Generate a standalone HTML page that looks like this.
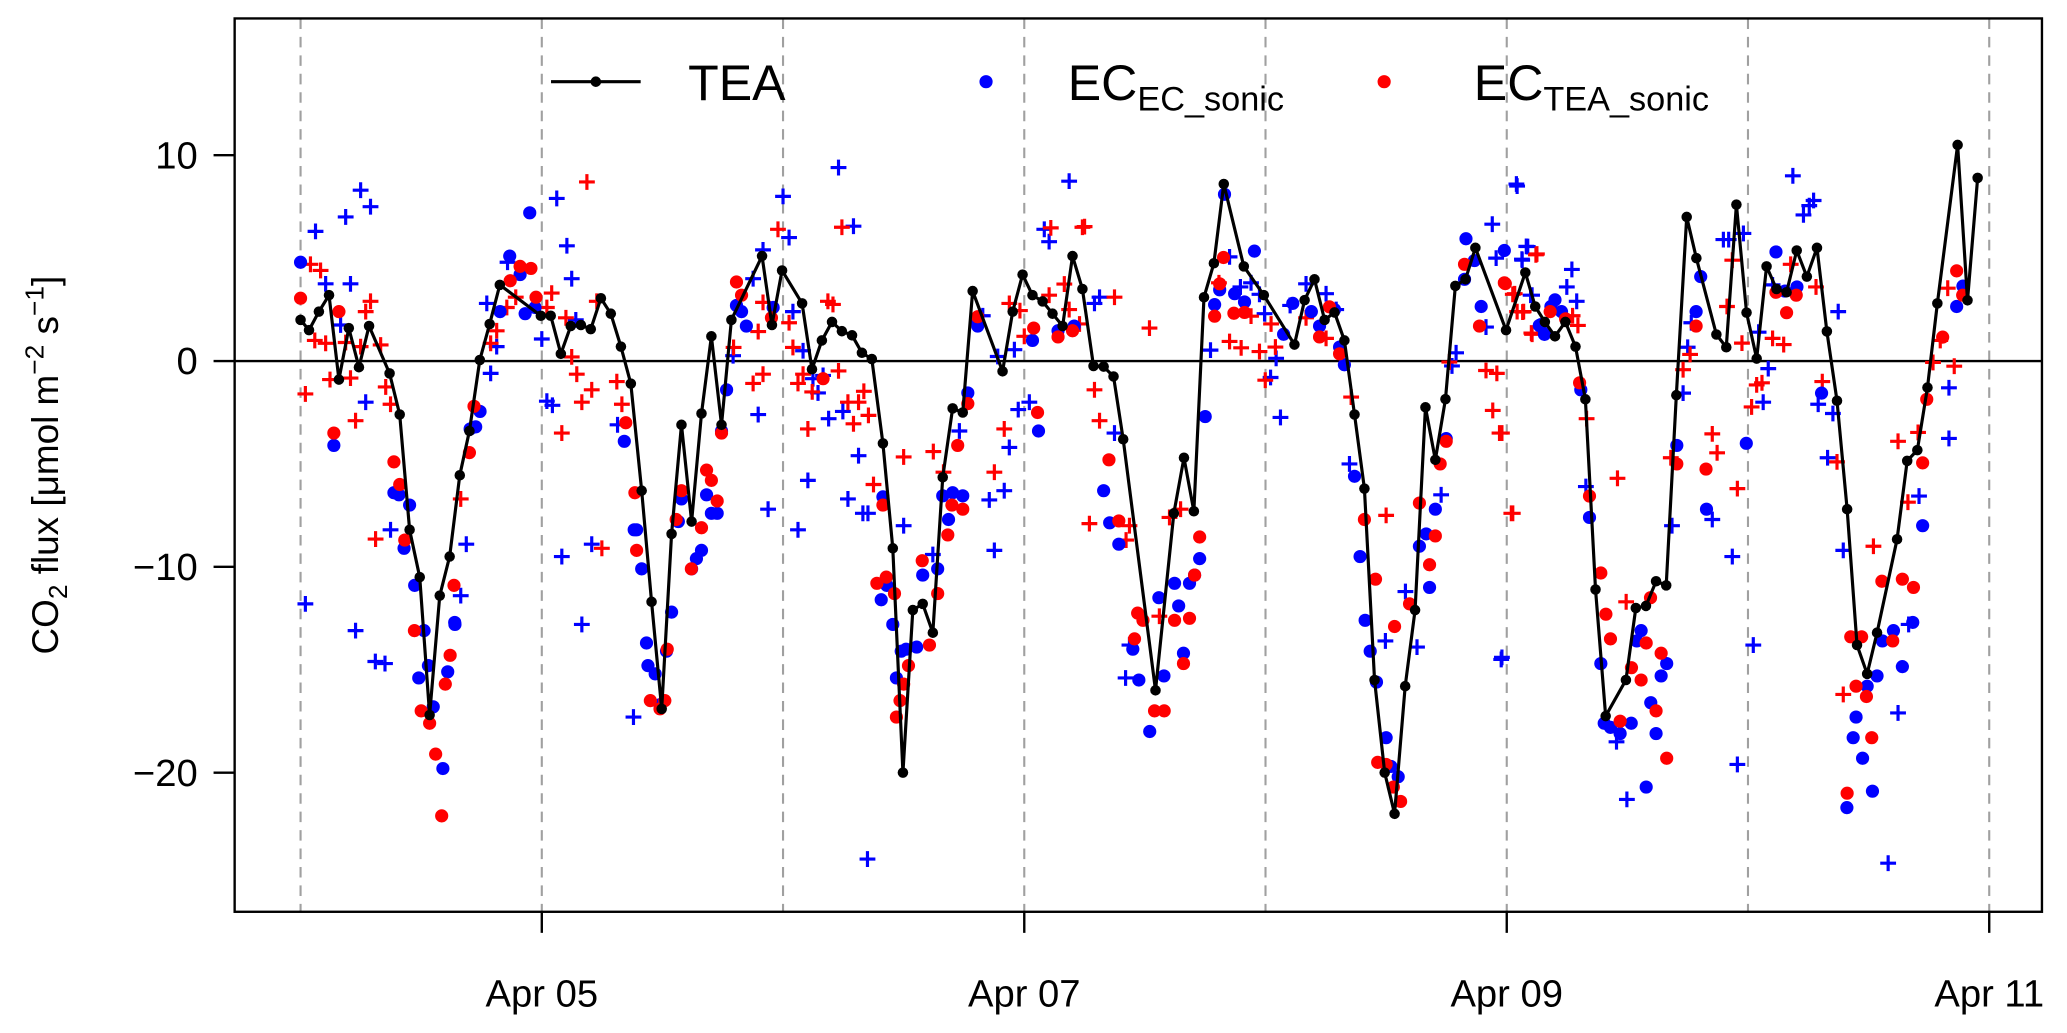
<!DOCTYPE html>
<html><head><meta charset="utf-8"><style>
html,body{margin:0;padding:0;background:#fff;}
svg{display:block;}
text{font-family:"Liberation Sans",Arial,sans-serif;}
</style></head><body>
<svg id="chart" width="2067" height="1033" viewBox="0 0 1568 784" preserveAspectRatio="none" xmlns="http://www.w3.org/2000/svg">
<g id="grid"></g>
<line x1="178" y1="274" x2="1549" y2="274" stroke="#000" stroke-width="1.8"/>
<g id="marks"></g>
<rect x="178" y="14" width="1371" height="678" fill="none" stroke="#000" stroke-width="1.8"/>
<g id="axes"></g>
<text transform="translate(44,353) rotate(-90)" text-anchor="middle" font-size="28">CO<tspan font-size="20" dy="7">2</tspan><tspan dy="-7"> flux [μmol m</tspan><tspan font-size="20" dy="-11">−2</tspan><tspan dy="11"> s</tspan><tspan font-size="20" dy="-11">−1</tspan><tspan dy="11">]</tspan></text>
<g>
  <line x1="418" y1="62" x2="486" y2="62" stroke="#000" stroke-width="2.4"/>
  <circle cx="452" cy="62" r="4" fill="#000"/>
  <text x="522" y="76" font-size="38">TEA</text>
  <circle cx="748" cy="62" r="5" fill="#0000ff"/>
  <text x="810" y="76" font-size="38">EC<tspan font-size="26" dy="8">EC_sonic</tspan></text>
  <circle cx="1050" cy="62" r="5" fill="#ff0000"/>
  <text x="1118" y="76" font-size="38">EC<tspan font-size="26" dy="8">TEA_sonic</tspan></text>
</g>
</svg>
<script>
const teaDays=[4.000,4.035,4.076,4.118,4.159,4.200,4.242,4.284,4.369,4.411,4.452,4.494,4.535,4.577,4.618,4.660,4.700,4.743,4.784,4.826,4.996,5.037,5.079,5.120,5.162,5.203,5.245,5.286,5.328,5.369,5.414,5.455,5.497,5.538,5.579,5.621,5.662,5.703,5.745,5.786,5.913,5.954,5.996,6.079,6.120,6.161,6.203,6.244,6.286,6.327,6.368,6.414,6.455,6.497,6.538,6.579,6.621,6.662,6.703,6.745,6.786,6.910,6.952,6.993,7.034,7.076,7.117,7.159,7.200,7.241,7.287,7.329,7.370,7.410,7.544,7.620,7.662,7.703,7.745,7.786,7.827,7.910,7.993,8.120,8.162,8.203,8.245,8.286,8.327,8.369,8.410,8.452,8.494,8.535,8.579,8.620,8.663,8.704,8.746,8.787,8.829,8.870,8.997,9.077,9.118,9.158,9.200,9.243,9.285,9.326,9.368,9.410,9.494,9.535,9.577,9.619,9.661,9.703,9.746,9.786,9.869,9.910,9.952,9.994,10.036,10.077,10.118,10.160,10.202,10.244,10.286,10.327,10.369,10.411,10.452,10.494,10.535,10.618,10.660,10.702,10.744,10.785,10.869,10.910,10.952];
const teaVals=[2.0,1.5,2.4,3.2,-0.9,1.6,-0.3,1.7,-0.6,-2.6,-8.2,-10.5,-17.2,-11.4,-9.5,-5.55,-3.4,0.05,1.8,3.7,2.2,2.2,0.35,1.7,1.75,1.55,3.05,2.3,0.7,-1.1,-6.3,-11.7,-16.9,-8.4,-3.1,-7.8,-2.55,1.2,-3.1,2.0,5.1,1.75,4.4,2.8,-0.4,1.0,1.9,1.45,1.25,0.4,0.1,-4.0,-9.1,-20.0,-12.1,-11.8,-13.2,-5.65,-2.3,-2.5,3.4,-0.5,2.4,4.2,3.2,2.9,2.3,1.7,5.1,3.5,-0.24,-0.27,-0.75,-3.8,-16.0,-7.4,-4.7,-7.3,3.1,4.75,8.6,4.6,3.2,0.8,2.96,3.97,2.0,2.36,1.0,-2.6,-6.2,-15.5,-20.0,-22.0,-15.8,-12.1,-2.25,-4.8,-1.85,3.65,3.97,5.5,1.5,4.3,2.65,1.9,1.2,1.9,0.7,-1.86,-11.1,-17.25,-15.5,-12.0,-11.9,-10.7,-10.9,-1.66,7.0,5.0,1.29,0.67,7.6,2.35,0.12,4.6,3.5,3.34,5.37,4.1,5.5,1.44,-1.93,-7.2,-13.8,-15.2,-13.2,-8.66,-4.85,-4.33,-1.29,2.8,10.5,2.95,8.9];

const blueDotDays=[4.0,4.138,4.387,4.408,4.452,4.429,4.473,4.512,4.49,4.53,4.55,4.59,4.61,4.64,4.639,4.744,4.703,4.726,4.827,4.91,4.867,4.95,4.931,4.972,5.342,5.383,5.393,5.414,5.434,5.44,5.47,5.49,5.517,5.538,5.566,5.579,5.621,5.641,5.662,5.683,5.703,5.727,5.745,5.766,5.807,5.828,5.848,5.959,6.414,6.43,6.407,6.455,6.47,6.49,6.51,6.554,6.579,6.641,6.686,6.662,6.703,6.745,6.766,6.8,6.807,7.034,7.059,7.14,7.207,7.329,7.354,7.392,7.45,7.475,7.52,7.558,7.579,7.623,7.64,7.66,7.685,7.706,7.727,7.75,7.789,7.81,7.872,7.913,7.954,7.83,8.075,8.113,8.19,8.224,8.286,8.307,8.327,8.369,8.392,8.413,8.434,8.46,8.5,8.52,8.55,8.638,8.666,8.68,8.704,8.749,8.825,8.866,8.831,8.894,8.99,9.142,9.156,9.135,9.157,9.183,9.2,9.227,9.307,9.343,9.39,9.404,9.43,9.47,9.516,9.539,9.557,9.578,9.597,9.619,9.64,9.663,9.705,9.804,9.785,9.828,9.993,10.116,10.153,10.203,10.305,10.41,10.448,10.436,10.475,10.516,10.494,10.535,10.557,10.603,10.64,10.683,10.724,10.865,10.891];
const blueDotVals=[4.8,-4.1,-6.4,-6.5,-7.0,-9.1,-10.9,-13.1,-15.4,-14.8,-16.8,-19.8,-15.1,-12.8,-12.7,-2.45,-3.3,-3.2,2.4,4.2,5.1,7.2,2.3,2.6,-3.9,-8.2,-8.2,-10.1,-13.7,-14.8,-15.2,-16.7,-14.1,-12.2,-7.8,-6.7,-10.1,-9.6,-9.2,-6.5,-7.4,-7.4,-3.4,-1.4,2.7,2.4,1.7,2.6,-6.6,-10.9,-11.6,-12.8,-15.4,-14.1,-14.0,-13.9,-10.4,-10.1,-7.7,-6.55,-6.4,-6.55,-1.55,2.0,1.7,1.0,-3.4,1.47,1.7,-6.3,-7.86,-8.9,-14.0,-15.5,-18.0,-11.5,-15.3,-10.8,-11.9,-14.2,-10.8,-10.4,-9.6,-2.7,2.74,3.46,3.27,2.87,5.34,8.1,1.3,2.8,2.4,1.7,2.5,0.68,-0.18,-5.6,-9.5,-12.6,-14.1,-15.6,-18.3,-19.7,-20.2,-9.0,-8.4,-11.0,-7.2,-3.77,3.97,4.88,5.94,2.65,5.37,1.77,1.3,1.73,1.3,2.65,2.97,2.4,-1.4,-7.6,-14.7,-17.6,-17.8,-18.1,-17.6,-13.6,-13.1,-20.7,-16.6,-18.1,-15.3,-14.7,-4.1,4.1,2.4,-7.2,-4.0,5.3,3.4,3.6,-1.56,-21.7,-17.3,-18.3,-19.3,-20.9,-15.8,-15.3,-13.6,-13.1,-14.85,-12.7,-8.0,2.65,3.64];

const redDotDays=[4.0,4.159,4.138,4.387,4.411,4.432,4.472,4.50,4.535,4.56,4.585,4.60,4.62,4.636,4.719,4.7,4.869,4.91,4.955,4.976,5.348,5.386,5.393,5.45,5.49,5.51,5.52,5.579,5.557,5.62,5.662,5.683,5.703,5.727,5.745,5.807,5.828,5.952,6.166,6.389,6.428,6.462,6.414,6.47,6.485,6.50,6.52,6.577,6.607,6.641,6.683,6.7,6.724,6.745,6.766,6.807,7.055,7.039,7.14,7.2,7.351,7.392,7.47,7.492,7.457,7.54,7.58,7.623,7.685,7.727,7.706,7.66,7.789,7.826,7.81,7.869,7.913,8.224,8.265,8.307,8.41,8.456,8.465,8.5,8.53,8.56,8.535,8.597,8.68,8.704,8.638,8.724,8.749,8.825,8.887,8.99,8.994,9.18,9.244,9.302,9.343,9.39,9.411,9.43,9.47,9.517,9.557,9.578,9.596,9.619,9.64,9.663,9.705,9.785,9.826,10.16,10.2,10.116,10.426,10.471,10.448,10.491,10.513,10.411,10.555,10.6,10.64,10.686,10.724,10.741,10.807,10.865,10.89];
const redDotVals=[3.05,2.4,-3.5,-4.9,-6.0,-8.7,-13.1,-17.0,-17.6,-19.1,-22.1,-15.7,-14.3,-10.9,-2.2,-4.45,3.9,4.6,4.5,3.1,-3.0,-6.4,-9.2,-16.5,-16.9,-16.5,-14.0,-6.3,-7.7,-10.1,-8.1,-5.3,-5.8,-6.8,-3.5,3.84,3.2,2.1,-0.86,-10.8,-10.5,-11.3,-7.0,-17.3,-16.5,-15.7,-14.8,-9.7,-13.8,-11.3,-8.45,-7.0,-4.1,-7.2,-2.07,2.15,-2.5,1.6,1.17,1.47,-4.8,-7.77,-12.25,-12.6,-13.5,-17.0,-17.0,-12.6,-12.5,-8.55,-10.4,-14.7,2.18,5.03,3.75,2.32,2.36,1.17,2.63,0.35,-7.7,-10.6,-19.5,-19.6,-20.7,-21.4,-12.9,-11.8,-9.9,-8.5,-6.9,-5.0,-3.9,4.7,1.7,3.8,3.76,2.4,2.05,-1.06,-6.56,-10.3,-12.3,-13.5,-17.5,-14.9,-15.5,-13.7,-11.5,-17.0,-14.2,-19.3,-5.0,1.7,-5.25,2.35,3.2,3.34,-13.4,-13.4,-15.8,-16.3,-18.3,-21.0,-10.7,-13.6,-10.6,-11.0,-4.95,-1.86,1.16,4.38,3.2];

const bluePlusDays=[4.249,4.29,4.187,4.062,4.104,4.207,4.166,4.27,4.373,4.02,4.228,4.31,4.35,4.687,4.664,4.772,4.813,4.788,4.858,5.062,5.104,5.124,5.141,5.0,5.021,5.044,5.083,5.166,5.207,5.314,5.38,6.23,6.292,6.0,6.025,5.917,5.876,6.041,6.083,5.793,5.897,6.124,6.166,6.145,6.189,6.248,6.313,6.103,5.938,6.062,6.269,6.331,6.352,6.5,6.621,6.35,6.731,6.828,6.89,6.959,6.975,7.021,6.938,6.855,6.917,6.876,7.083,7.103,7.186,7.312,7.291,7.374,7.436,7.42,7.851,7.896,7.94,7.975,7.996,8.044,8.021,8.062,7.772,8.168,8.251,8.102,8.293,8.348,8.497,8.58,8.728,8.628,8.773,8.79,8.94,8.914,8.956,9.043,9.064,9.087,9.105,8.977,9.04,9.063,9.081,9.27,9.249,9.29,9.099,8.98,9.328,9.455,9.498,9.685,9.731,9.75,9.765,9.852,9.935,9.956,9.898,9.92,9.981,10.022,10.044,10.063,10.084,10.186,10.23,10.254,10.272,10.102,10.291,10.352,10.33,10.374,10.395,10.581,10.622,10.666,10.709,10.833,10.833];
const bluePlusVals=[8.3,7.5,7.0,6.3,3.75,3.75,1.75,-2.0,-8.2,-11.8,-13.1,-14.6,-14.7,-8.9,-11.4,2.8,0.7,-0.6,4.8,7.9,5.6,4.0,2.0,1.07,-1.95,-2.15,-9.5,-12.8,-8.9,-3.1,-17.3,9.4,6.55,8.0,6.0,5.4,4.0,2.4,0.5,0.26,-2.6,-0.86,-0.7,-1.55,-2.8,-2.45,-4.6,-5.8,-7.2,-8.2,-6.7,-7.4,-7.4,-8.0,-9.4,-24.2,-3.4,2.2,0.22,0.55,-2.36,-2.0,-4.2,-6.75,-6.3,-9.2,6.4,5.8,8.74,3.1,2.8,-3.5,-13.8,-15.4,5.06,3.6,3.8,3.24,2.3,0.13,-0.8,-2.74,0.53,3.75,3.27,2.7,2.5,-5.0,-13.6,-11.2,-6.5,-13.9,-0.24,0.4,6.65,1.65,5.0,8.5,4.9,5.56,3.2,-14.5,8.6,4.95,5.57,4.45,3.6,2.9,3.2,-14.4,-6.1,-18.5,-21.3,-8.0,-1.56,0.67,1.86,-7.7,-9.5,-19.6,5.9,5.9,6.2,-13.8,1.4,-2.0,-0.37,9.0,7.1,7.55,7.8,3.7,-2.1,-2.55,-4.7,2.4,-9.2,-24.4,-17.1,-12.8,-6.56,-1.3,-3.76];

const redPlusDays=[4.041,4.083,4.059,4.104,4.29,4.27,4.332,4.02,4.122,4.207,4.187,4.249,4.228,4.353,4.373,4.311,4.664,4.813,4.788,4.855,4.892,5.041,5.021,5.187,5.1,5.124,5.145,5.207,5.166,5.083,5.228,5.311,5.332,5.249,5.979,6.244,6.186,6.207,5.917,5.897,6.025,6.041,5.795,5.917,5.876,6.062,6.083,6.121,6.23,6.269,6.313,6.335,6.354,6.292,6.103,6.375,6.5,6.623,6.665,6.917,6.876,6.938,6.982,7.0,7.11,7.166,7.186,7.103,7.241,7.25,7.374,7.519,7.229,7.291,7.312,7.27,7.436,7.422,7.56,7.648,7.602,7.807,7.851,7.899,7.94,7.975,7.999,8.023,8.041,8.168,8.251,8.355,8.5,8.97,8.942,8.914,8.959,9.121,9.025,9.066,9.105,9.025,8.762,9.043,9.125,9.033,9.07,9.102,9.273,9.295,8.98,9.019,9.331,9.459,9.495,9.68,9.731,9.76,9.852,9.872,9.913,9.935,9.956,9.975,10.036,10.058,10.015,10.102,10.148,10.177,10.282,10.308,10.369,10.395,10.52,10.622,10.663,10.705,10.767,10.828,10.855,10.797];
const redPlusVals=[4.7,4.4,1.0,0.86,2.9,2.4,0.78,-1.6,-0.9,-0.83,0.9,0.7,-2.9,-1.26,-2.1,-8.65,-6.7,1.47,0.86,2.6,3.1,3.3,2.6,8.7,2.1,0.2,-0.64,-1.4,-2.0,-3.5,2.9,-1.0,-2.1,-9.1,6.4,6.5,2.9,2.75,2.85,1.43,1.86,0.66,0.66,-0.64,-1.09,-1.09,-0.64,-1.5,-0.48,-2.0,-2.0,-1.47,-2.64,-3.05,-3.3,-6.0,-4.66,-4.4,-5.4,-3.3,-5.4,2.8,2.45,1.2,6.47,3.74,2.5,3.2,6.5,6.53,3.1,1.6,1.8,-1.4,-2.9,-7.9,-8.0,-8.7,-12.4,-7.2,-7.6,3.8,0.95,0.64,2.18,0.46,-0.93,1.8,0.68,2.1,1.1,-1.75,-7.5,-3.5,-2.4,-0.46,-0.6,5.16,3.24,2.38,1.3,-7.4,-0.05,2.4,5.2,3.27,2.4,1.36,2.2,1.73,-3.5,-7.4,-2.8,-5.7,-11.7,-4.7,-0.42,0.32,-3.54,-4.46,2.65,4.9,-6.2,0.87,-1.16,-1.06,-2.23,1.1,0.8,4.7,3.6,-1.0,-4.9,-16.2,-9.0,-3.9,-6.86,-3.47,-0.07,3.54,-0.25,1.0];

const yTicks=[10,0,-10,-20];
const yTickLabels=["10","0","\u221210","\u221220"];
const xTicks=[5,7,9,11];
const xTickLabels=["Apr 05","Apr 07","Apr 09","Apr 11"];
const gridDays=[4,5,6,7,8,9,10,11];

const NS="http://www.w3.org/2000/svg";
function xS(d){return 228+(d-4)*183;}
function yS(v){return 274-v*15.62;}
function mk(tag,attrs,parent){const e=document.createElementNS(NS,tag);for(const k in attrs)e.setAttribute(k,attrs[k]);parent.appendChild(e);return e;}

const grid=document.getElementById('grid');
gridDays.forEach(d=>{
  const l=mk('line',{x1:xS(d),x2:xS(d),y1:14,y2:692,stroke:'#a0a0a0','stroke-width':1.6,'stroke-dasharray':'8,6'},grid);
  
  
});

const axes=document.getElementById('axes');
yTicks.forEach((v,i)=>{
  const t=mk('line',{x1:162,x2:178,y1:yS(v),y2:yS(v),stroke:'#000','stroke-width':1.8},axes);
  
  
  const tx=mk('text',{x:150,y:yS(v)+10,'text-anchor':'end','font-size':29},axes);
  tx.textContent=yTickLabels[i];
  
  
});
xTicks.forEach((d,i)=>{
  const t=mk('line',{x1:xS(d),x2:xS(d),y1:692,y2:708,stroke:'#000','stroke-width':1.8},axes);
  
  
  const tx=mk('text',{x:xS(d),y:764,'text-anchor':'middle','font-size':29},axes);
  tx.textContent=xTickLabels[i];
  
  
});

const marks=document.getElementById('marks');
function plus(days,vals,color,name){
  let d='';
  days.forEach((t,i)=>{const x=xS(t),y=yS(vals[i]);d+=`M${x-6} ${y}h12M${x} ${y-6}v12`;});
  const p=mk('path',{d:d,stroke:color,'stroke-width':2.4,fill:'none'},marks);
  
  
}
function dots(days,vals,color,name){
  const g=mk('g',{fill:color},marks);
  
  
  days.forEach((t,i)=>{
    const c=mk('circle',{cx:xS(t),cy:yS(vals[i]),r:5},g);
    
    
  });
}
plus(bluePlusDays,bluePlusVals,'#0000ff','ec-ec-sonic-flagged-points');
plus(redPlusDays,redPlusVals,'#ff0000','ec-tea-sonic-flagged-points');
dots(blueDotDays,blueDotVals,'#0000ff','ec-ec-sonic-points');
dots(redDotDays,redDotVals,'#ff0000','ec-tea-sonic-points');

let pd='';
teaDays.forEach((t,i)=>{pd+=(i?'L':'M')+xS(t)+' '+yS(teaVals[i]);});
const line=mk('path',{d:pd,stroke:'#000','stroke-width':2.4,fill:'none','stroke-linejoin':'round'},marks);


const tg=mk('g',{fill:'#000'},marks);


teaDays.forEach((t,i)=>{
  const c=mk('circle',{cx:xS(t),cy:yS(teaVals[i]),r:4},tg);
  
  
});
</script>
</body></html>
